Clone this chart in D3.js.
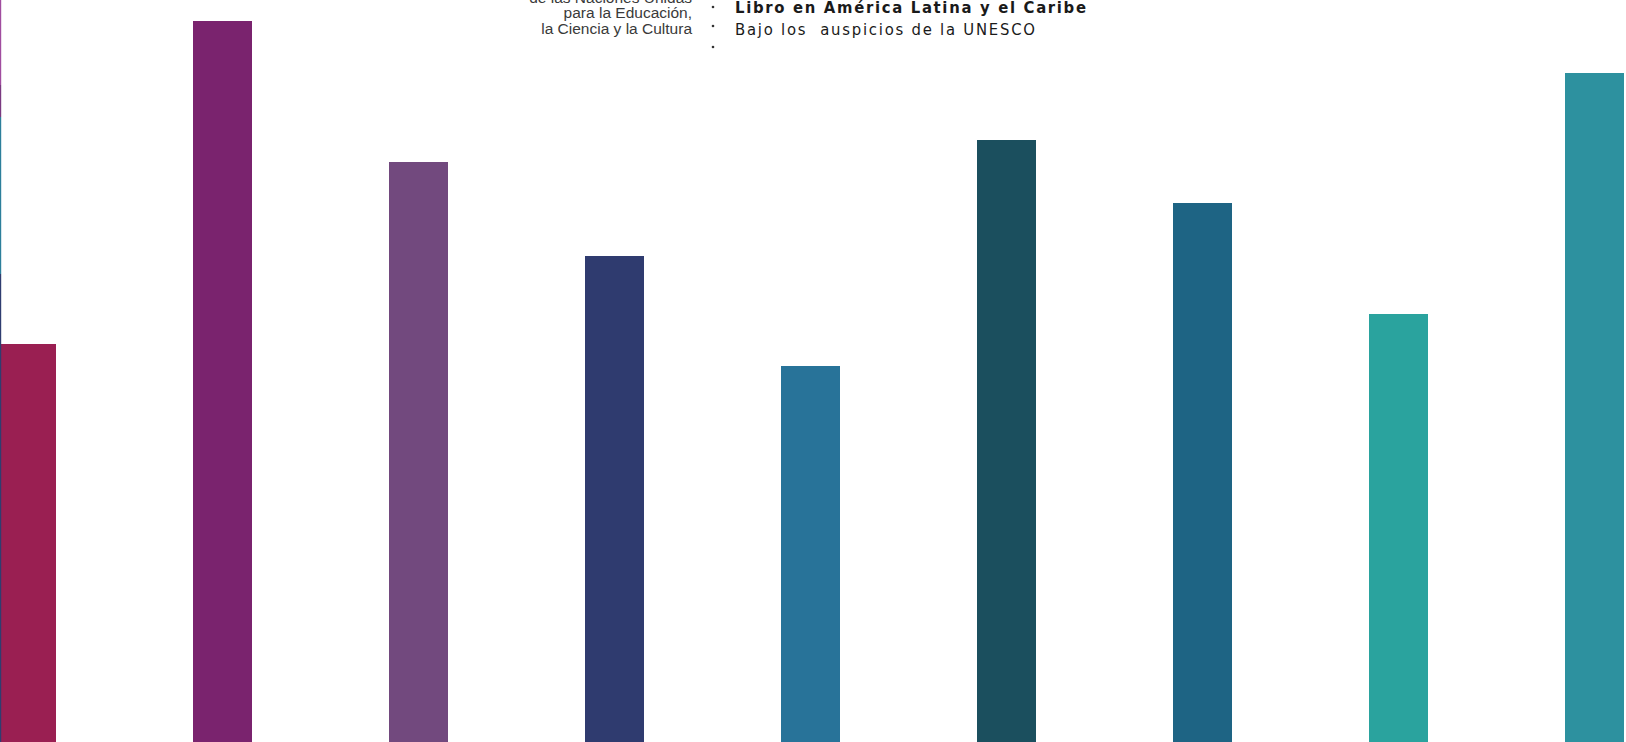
<!DOCTYPE html>
<html>
<head>
<meta charset="utf-8">
<script src="https://cdn.jsdelivr.net/npm/d3@7"></script>
<style>
  html, body { margin: 0; padding: 0; background: #fff; overflow: hidden; }
  svg { display: block; }
</style>
</head>
<body>
<svg id="chart" width="1626" height="742"></svg>
<script>
// ---- data ----
const categories = ["C1", "C2", "C3", "C4", "C5", "C6", "C7", "C8", "C9"];
const values = [398, 721, 580, 486, 376, 602, 539, 428, 669];
const barColors = ["#9a1f52", "#7a236e", "#72497e", "#2f3b6f", "#287399", "#1b4f5e", "#1e6484", "#2aa39e", "#2d919f"];
const stripeStops = [0, 85, 117, 274, 742];
const stripeColors = ["#a04d9f", "#7a3a80", "#2c7f9b", "#2f3d70"];
const leftLines = ["de las Naciones Unidas", "para la Educación,", "la Ciencia y la Cultura"];
const rightLines = ["Libro en América Latina y el Caribe", "Bajo los  auspicios de la UNESCO"];

// ---- layout ----
const W = 1626, H = 742;
const svg = d3.select("#chart");

const x = d3.scaleBand()
  .domain(categories)
  .range([-3, 1624])
  .paddingInner(1 - 59 / 196)
  .paddingOuter(0);

const y = d3.scaleLinear().domain([0, 742]).range([H, 0]);

svg.append("g").selectAll("rect")
  .data(categories)
  .join("rect")
  .attr("x", d => x(d))
  .attr("width", x.bandwidth())
  .attr("y", (d, i) => y(values[i]))
  .attr("height", (d, i) => H - y(values[i]))
  .attr("fill", (d, i) => barColors[i]);

// left thin coloured stripe
const ys = d3.scaleLinear().domain([0, 742]).range([0, H]);
svg.append("g").selectAll("rect")
  .data(stripeColors)
  .join("rect")
  .attr("x", 0)
  .attr("width", 1.2)
  .attr("y", (d, i) => ys(stripeStops[i]))
  .attr("height", (d, i) => ys(stripeStops[i + 1]) - ys(stripeStops[i]))
  .attr("fill", d => d);

// header text (cropped logo area)
const hdr = svg.append("g");
hdr.selectAll("text.l")
  .data(leftLines)
  .join("text")
  .attr("class", "l")
  .attr("x", 692)
  .attr("y", (d, i) => 3 + i * 15.3)
  .attr("text-anchor", "end")
  .attr("font-family", "Liberation Sans, Arial, sans-serif")
  .attr("font-size", 15.5)
  .attr("fill", "#3a3a3a")
  .text(d => d);

hdr.selectAll("circle")
  .data([7, 26, 47])
  .join("circle")
  .attr("cx", 713)
  .attr("cy", d => d)
  .attr("r", 1.3)
  .attr("fill", "#333");

hdr.append("text")
  .attr("x", 735)
  .attr("y", 13)
  .attr("font-family", "DejaVu Sans Condensed, DejaVu Sans, sans-serif")
  .attr("font-weight", "bold")
  .attr("font-size", 16.5)
  .attr("fill", "#1a1a1a")
  .attr("textLength", 351)
  .attr("lengthAdjust", "spacing")
  .text(rightLines[0]);

hdr.append("text")
  .attr("x", 735)
  .attr("y", 35)
  .attr("font-family", "DejaVu Sans Condensed, DejaVu Sans, sans-serif")
  .attr("font-size", 16.5)
  .attr("fill", "#1a1a1a")
  .attr("textLength", 300)
  .attr("lengthAdjust", "spacing")
  .attr("xml:space", "preserve")
  .style("white-space", "pre")
  .text(rightLines[1]);
</script>
</body>
</html>
